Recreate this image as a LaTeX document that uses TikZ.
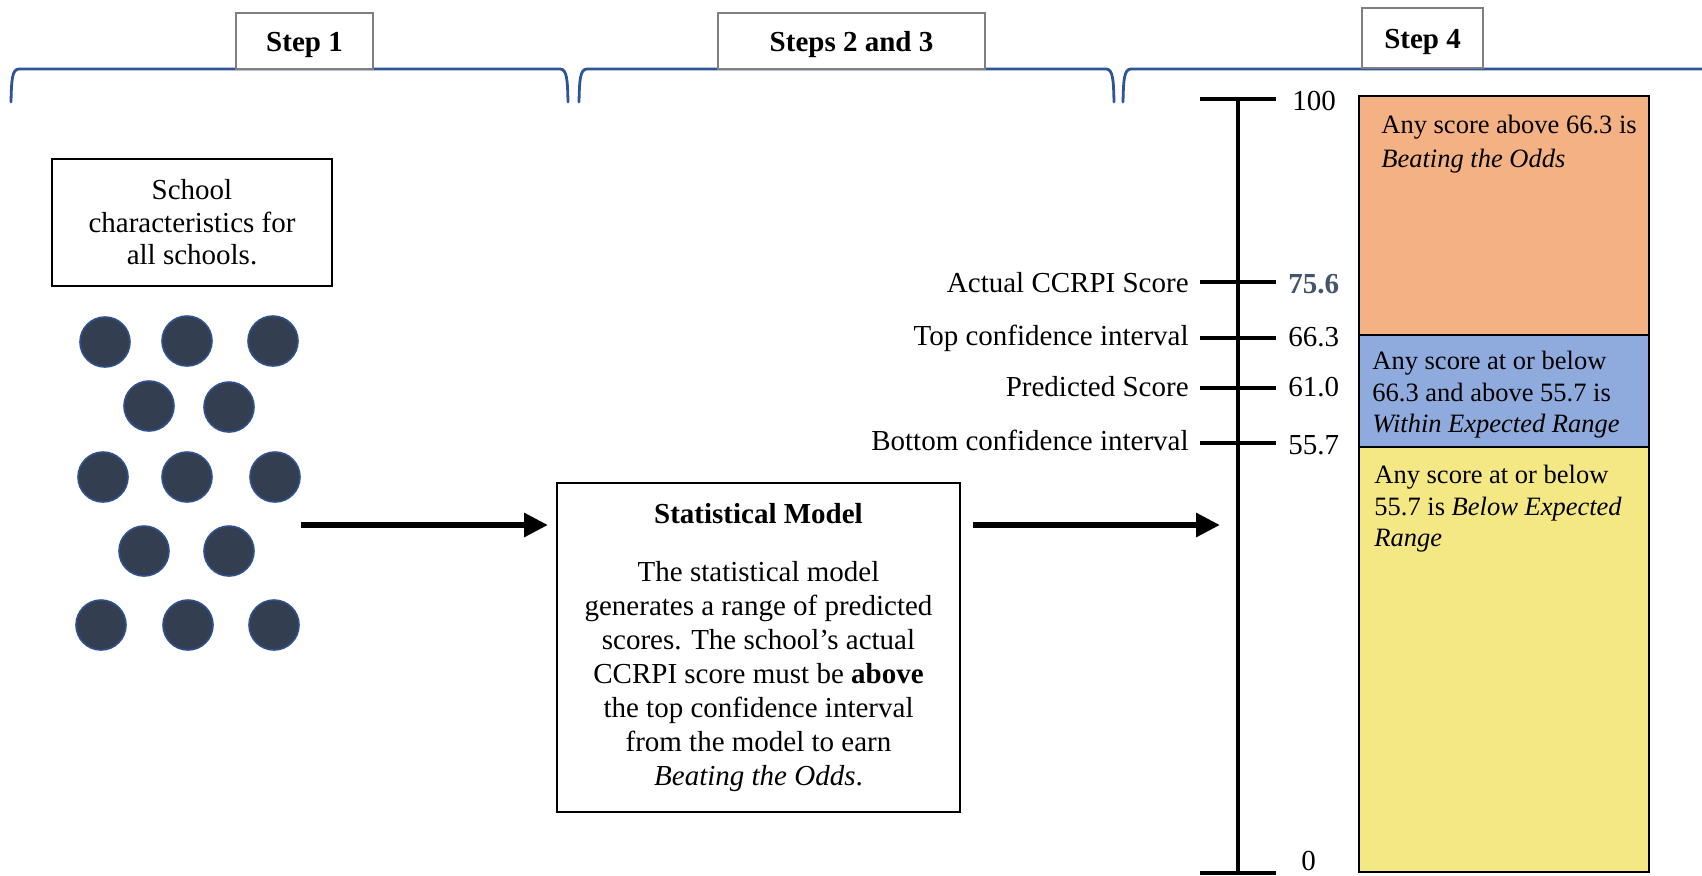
\documentclass[tikz,border=0pt]{standalone}
\usepackage{fontspec}
\setmainfont{Liberation Serif}
\usetikzlibrary{arrows.meta}
\definecolor{brkblue}{HTML}{2F5597}
\definecolor{dotfill}{HTML}{333F50}
\definecolor{dotline}{HTML}{2F528F}
\definecolor{scorecol}{HTML}{44546A}
\definecolor{orangefill}{HTML}{F4B183}
\definecolor{bluefill}{HTML}{8FAADC}
\definecolor{yellowfill}{HTML}{F3E884}
\definecolor{stepgray}{HTML}{7F7F7F}
\tikzset{
  brk/.style={draw=brkblue, line width=1.4pt, line cap=round},
  stepbox/.style={draw=stepgray, line width=1pt, fill=white, font=\fontsize{14.5}{17}\selectfont\bfseries, inner sep=0pt, text height=10.6pt, text depth=0pt},
  textbox/.style={draw=black, line width=1pt, fill=white, align=center, inner sep=0pt},
  schooldot/.style={circle, fill=dotfill, draw=dotline, line width=0.8pt, minimum size=25pt, inner sep=0pt},
  bigarrow/.style={line width=3.2pt, -{Triangle[length=12pt,width=11.5pt]}},
  axisline/.style={line width=2pt},
  lbl/.style={font=\fontsize{14.5}{17}\selectfont, inner sep=0pt},
  band/.style={draw=black, line width=1.2pt},
  bandtext/.style={font=\fontsize{13.25}{15.75}\selectfont, align=left, inner sep=0pt, anchor=north west},
}
\begin{document}
\begin{tikzpicture}[x=0.5pt, y=-0.5pt]
\useasboundingbox (0,0) rectangle (1702,875);
\fill[white] (0,0) rectangle (1702,875);

% brackets
\draw[brk] (11,102) .. controls (11.5,80) and (12,69) .. (19,69) -- (560,69) .. controls (567,69) and (567.5,80) .. (568,102);
\draw[brk] (579,102) .. controls (579.5,80) and (580,69) .. (587,69) -- (1106,69) .. controls (1113,69) and (1113.5,80) .. (1114,102);
\draw[brk] (1123,102) .. controls (1123.5,80) and (1124,69) .. (1131,69) -- (1710,69);

% step headers
\node[stepbox, minimum width=68.5pt, minimum height=28pt] (s1) at (304.5,41) {Step 1};
\node[stepbox, minimum width=133.5pt, minimum height=28pt] (s23) at (851.5,41) {Steps 2 and 3};
\node[stepbox, minimum width=60.5pt, minimum height=30pt] (s4) at (1422.5,38) {Step 4};

% school box
\node[textbox, minimum width=140pt, minimum height=63.5pt, font=\fontsize{14.5}{16.25}\selectfont] (school) at (192,222.5) {School\\characteristics for\\all schools.};

% dots
\node[schooldot] (c1) at (105,342) {};
\node[schooldot] (c2) at (187,341) {};
\node[schooldot] (c3) at (273,341) {};
\node[schooldot] (c4) at (149,406) {};
\node[schooldot] (c5) at (229,407) {};
\node[schooldot] (c6) at (103,477) {};
\node[schooldot] (c7) at (187,477) {};
\node[schooldot] (c8) at (275,477) {};
\node[schooldot] (c9) at (144,551) {};
\node[schooldot] (c10) at (229,551) {};
\node[schooldot] (c11) at (101,625) {};
\node[schooldot] (c12) at (188,625) {};
\node[schooldot] (c13) at (274,625) {};

% statistical model box
\node[textbox, minimum width=201.5pt, minimum height=164.5pt, font=\fontsize{14.5}{17}\selectfont] (stat) at (758.5,647.5)
{\textbf{Statistical Model}\\[12pt]The statistical model\\generates a range of predicted\\scores. The school’s actual\\CCRPI score must be \textbf{above}\\the top confidence interval\\from the model to earn\\\textit{Beating the Odds}.};

% axis
\coordinate (axtop) at (1238,99);
\coordinate (axbot) at (1238,873);
\draw[axisline] (axtop) -- (axbot);
\draw[axisline] (1200,99) -- (1276,99);
\draw[axisline] (1200,282) -- (1276,282);
\draw[axisline] (1200,338) -- (1276,338);
\draw[axisline] (1200,388) -- (1276,388);
\draw[axisline] (1200,443) -- (1276,443);
\draw[axisline] (1200,873) -- (1276,873);

% arrows
\coordinate (a1s) at (301,525);
\draw[bigarrow, shorten >=4pt] (a1s) -- (a1s -| stat.west);
\draw[bigarrow, shorten <=6pt, shorten >=9pt] (stat.east |- a1s) -- (axtop |- a1s);

% axis labels
\node[lbl, anchor=base east] (lactual) at (1189,292) {Actual CCRPI Score};
\node[lbl, anchor=base east] (ltop) at (1189,345) {Top confidence interval};
\node[lbl, anchor=base east] (lpred) at (1189,396) {Predicted Score};
\node[lbl, anchor=base east] (lbot) at (1189,450) {Bottom confidence interval};
\node[lbl, anchor=base west] (n100) at (1292,110) {100};
\node[lbl, anchor=base west, text=scorecol, font=\fontsize{14.5}{17}\selectfont\bfseries] (n756) at (1288,293) {75.6};
\node[lbl, anchor=base west] (n663) at (1288,346) {66.3};
\node[lbl, anchor=base west] (n610) at (1288,396) {61.0};
\node[lbl, anchor=base west] (n557) at (1288,454) {55.7};
\node[lbl, anchor=base west] (n0) at (1301,870) {0};

% bands
\filldraw[band, fill=orangefill] (1359,96) rectangle (1649,335);
\filldraw[band, fill=bluefill] (1359,335) rectangle (1649,447);
\filldraw[band, fill=yellowfill] (1359,447) rectangle (1649,872);
\node[bandtext, font=\fontsize{13.25}{16.75}\selectfont] (torange) at (1381,115) {Any score above 66.3 is\\\textit{Beating the Odds}};
\node[bandtext] (tblue) at (1372,351) {Any score at or below\\66.3 and above 55.7 is\\\textit{Within Expected Range}};
\node[bandtext] (tyellow) at (1374,465) {Any score at or below\\55.7 is \textit{Below Expected}\\\textit{Range}};
\end{tikzpicture}
\end{document}
